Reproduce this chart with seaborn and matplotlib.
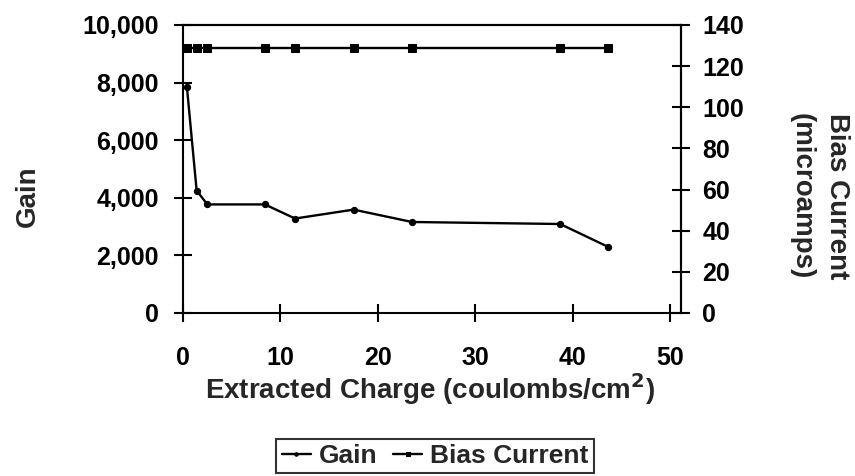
import matplotlib
matplotlib.use("Agg")
import matplotlib.pyplot as plt
from matplotlib.ticker import FuncFormatter, MultipleLocator
import seaborn as sns
import pandas as pd

# Measurements versus extracted charge
extracted_charge = [0.4, 1.4, 2.5, 8.4, 11.5, 17.5, 23.5, 38.7, 43.6]
gain = [7850, 4250, 3770, 3770, 3280, 3590, 3160, 3090, 2300]
bias_current = [129, 129, 129, 129, 129, 129, 129, 129, 129]

df = pd.DataFrame({"charge": extracted_charge, "gain": gain, "bias": bias_current})

sns.set_theme(style="white")
plt.rcParams["font.family"] = ["Liberation Sans", "DejaVu Sans"]
plt.rcParams["font.weight"] = "bold"
plt.rcParams["mathtext.default"] = "bf"

W, H = 855, 476
fig = plt.figure(figsize=(W / 100, H / 100), dpi=100)
ax = fig.add_axes([183 / W, 1 - 313 / H, (681 - 183) / W, (313 - 25) / H])
ax2 = ax.twinx()

sns.lineplot(data=df, x="charge", y="gain", ax=ax, color="black", lw=1.7,
             marker="o", markersize=4.5, markeredgecolor="black", label="Gain", legend=False)
sns.lineplot(data=df, x="charge", y="bias", ax=ax2, color="black", lw=1.7,
             marker="s", markersize=5.5, markeredgecolor="black", label="Bias Current", legend=False)

ax.set_xlim(0, 51.1)
ax.set_ylim(0, 10000)
ax2.set_ylim(0, 140)
ax.xaxis.set_major_locator(MultipleLocator(10))
ax.yaxis.set_major_locator(MultipleLocator(2000))
ax2.yaxis.set_major_locator(MultipleLocator(20))
ax.yaxis.set_major_formatter(FuncFormatter(lambda v, p: f"{int(v):,}"))

for a in (ax, ax2):
    for s in a.spines.values():
        s.set_color("black")
        s.set_linewidth(1.5)
ax.spines["top"].set_visible(True)
ax2.spines["left"].set_visible(False)
ax2.spines["bottom"].set_visible(False)

tick_kw = dict(direction="inout", length=13.5, width=1.5, colors="black", labelsize=18)
ax.tick_params(axis="x", bottom=True, top=False, pad=17, **tick_kw)
ax.tick_params(axis="y", left=True, right=False, pad=10.5, **tick_kw)
ax2.tick_params(axis="y", right=True, left=False, pad=8.5, **tick_kw)
for lab in ax.get_xticklabels() + ax.get_yticklabels() + ax2.get_yticklabels():
    lab.set_fontweight("bold")

ax.set_xlabel("")
ax.set_ylabel("")
ax2.set_ylabel("")
ax.grid(False)
ax2.grid(False)

# Axis titles
fig.text(430 / W, 1 - 399 / H, "Extracted Charge (coulombs/cm$^{2}$)",
         ha="center", va="baseline", fontsize=20, fontweight="bold")
fig.text(28 / W, 1 - 196 / H, "Gain", ha="center", va="center",
         rotation=90, fontsize=20, fontweight="bold")
fig.text(819 / W, 1 - 196 / H, "Bias Current\n(microamps)", ha="center", va="center",
         rotation=270, fontsize=20, fontweight="bold", linespacing=1.45)

h1, l1 = ax.get_legend_handles_labels()
h2, l2 = ax2.get_legend_handles_labels()
leg = fig.legend(h1 + h2, ["Gain", "Bias Current"], loc="center",
                 bbox_to_anchor=(435 / W, 1 - 456 / H), ncol=2,
                 frameon=True, fancybox=False, edgecolor="black",
                 prop={"size": 19, "weight": "bold"}, handlelength=1.1,
                 handletextpad=0.3, columnspacing=0.6, borderpad=0.2, markerscale=0.55)
leg.get_frame().set_linewidth(1.5)

fig.savefig("out.png", dpi=100)
